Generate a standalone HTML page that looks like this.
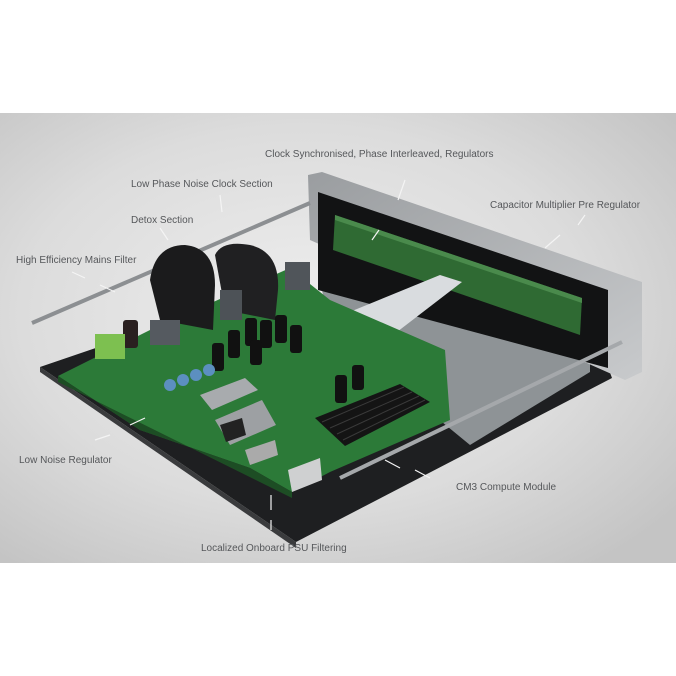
<!DOCTYPE html>
<html><head><style>
html,body{margin:0;padding:0;background:#fff;}
svg{display:block}
text{font-family:"Liberation Sans",sans-serif;font-size:10px;fill:#55575a;}
</style></head><body>
<svg width="676" height="676" viewBox="0 0 676 676">
<defs>
<radialGradient id="bg" cx="0.45" cy="0.45" r="0.7">
<stop offset="0" stop-color="#eeeeee"/><stop offset="0.6" stop-color="#dcdcdc"/><stop offset="1" stop-color="#c4c4c4"/>
</radialGradient>
<linearGradient id="panel" x1="0" y1="0" x2="1" y2="1">
<stop offset="0" stop-color="#9a9da0"/><stop offset="1" stop-color="#c8cacc"/>
</linearGradient>
</defs>
<rect x="0" y="113" width="676" height="450" fill="url(#bg)"/>
<!-- base plate -->
<polygon points="40,367 125,338 600,345 612,378 296,542" fill="#1e1f21"/>
<polygon points="40,367 296,542 296,548 40,372" fill="#3a3b3d"/>
<!-- floor -->
<polygon points="320,280 590,330 590,372 470,445 330,330" fill="#8e9396"/>
<!-- front panel -->
<polygon points="308,175 322,172 642,282 642,372 625,380 310,240" fill="url(#panel)"/>
<polygon points="318,192 608,290 608,368 318,290" fill="#121314"/>
<polygon points="335,215 582,298 580,335 333,250" fill="#2f6a33"/>
<polygon points="335,215 582,298 582,303 335,220" fill="#4a8a4c"/>
<!-- rods -->
<line x1="32" y1="323" x2="310" y2="203" stroke="#8c8f92" stroke-width="4"/>
<line x1="340" y1="478" x2="622" y2="342" stroke="#a5a8ab" stroke-width="4"/>
<!-- ribbon cable -->
<polygon points="330,320 440,275 462,282 380,345 340,345" fill="#d9dcdf"/>
<!-- main PCB -->
<polygon points="58,376 150,330 290,268 330,300 445,350 450,420 330,472 292,492 250,468 140,430" fill="#2c7a38"/>
<polygon points="58,376 140,430 250,468 292,492 292,498 58,382" fill="#1d4d24"/>
<!-- ferrite blocks -->
<path d="M150,280 Q155,245 185,245 Q215,248 215,285 L213,330 L160,320 Z" fill="#1b1b1c"/>
<path d="M215,255 Q222,240 250,245 Q280,252 278,290 L275,320 L225,310 Z" fill="#202022"/>
<!-- grey boxes -->
<rect x="150" y="320" width="30" height="25" fill="#555a60"/>
<rect x="285" y="262" width="25" height="28" fill="#50555a"/>
<rect x="220" y="290" width="22" height="30" fill="#4d5257"/>
<!-- capacitors -->
<g fill="#111">
<rect x="212" y="343" width="12" height="28" rx="3"/><rect x="228" y="330" width="12" height="28" rx="3"/>
<rect x="245" y="318" width="12" height="28" rx="3"/><rect x="260" y="320" width="12" height="28" rx="3"/>
<rect x="275" y="315" width="12" height="28" rx="3"/><rect x="290" y="325" width="12" height="28" rx="3"/>
<rect x="250" y="340" width="12" height="25" rx="3"/><rect x="335" y="375" width="12" height="28" rx="3"/>
<rect x="352" y="365" width="12" height="25" rx="3"/><rect x="123" y="320" width="15" height="28" rx="3" fill="#2a2020"/>
</g>
<!-- green terminal -->
<rect x="95" y="334" width="30" height="25" fill="#7dc050"/>
<!-- blue caps -->
<g fill="#5c8fc0"><circle cx="170" cy="385" r="6"/><circle cx="183" cy="380" r="6"/><circle cx="196" cy="375" r="6"/><circle cx="209" cy="370" r="6"/></g>
<!-- connectors -->
<polygon points="200,395 245,378 258,390 212,410" fill="#a8abae"/>
<polygon points="215,420 262,400 276,425 230,445" fill="#9da0a3"/>
<polygon points="220,425 242,418 246,435 226,442" fill="#222"/>
<polygon points="245,450 275,440 278,455 250,465" fill="#aaa"/>
<polygon points="288,470 320,458 322,480 292,492" fill="#cfd0d1"/>
<!-- heatsink -->
<polygon points="315,418 400,384 430,402 345,446" fill="#141414"/>
<g stroke="#3a3a3a" stroke-width="1">
<line x1="322" y1="422" x2="404" y2="387"/><line x1="330" y1="428" x2="412" y2="392"/><line x1="337" y1="434" x2="419" y2="396"/><line x1="343" y1="440" x2="425" y2="400"/>
</g>
<!-- pointer lines -->
<g stroke="#f4f4f4" stroke-width="1.2">
<line x1="405" y1="180" x2="398" y2="200"/><line x1="379" y1="230" x2="372" y2="240"/>
<line x1="220" y1="195" x2="222" y2="212"/><line x1="160" y1="228" x2="168" y2="240"/>
<line x1="72" y1="272" x2="85" y2="278"/><line x1="100" y1="285" x2="115" y2="292"/>
<line x1="585" y1="215" x2="578" y2="225"/><line x1="560" y1="235" x2="545" y2="248"/>
<line x1="95" y1="440" x2="110" y2="435"/><line x1="130" y1="425" x2="145" y2="418"/>
<line x1="430" y1="478" x2="415" y2="470"/><line x1="400" y1="468" x2="385" y2="460"/>
<line x1="271" y1="520" x2="271" y2="530"/><line x1="271" y1="495" x2="271" y2="510"/>
</g>
<!-- labels -->
<text x="265" y="157">Clock Synchronised, Phase Interleaved, Regulators</text>
<text x="131" y="187">Low Phase Noise Clock Section</text>
<text x="490" y="208">Capacitor Multiplier Pre Regulator</text>
<text x="131" y="223">Detox Section</text>
<text x="16" y="263">High Efficiency Mains Filter</text>
<text x="19" y="463">Low Noise Regulator</text>
<text x="456" y="490">CM3 Compute Module</text>
<text x="201" y="551">Localized Onboard PSU Filtering</text>
</svg>
</body></html>
